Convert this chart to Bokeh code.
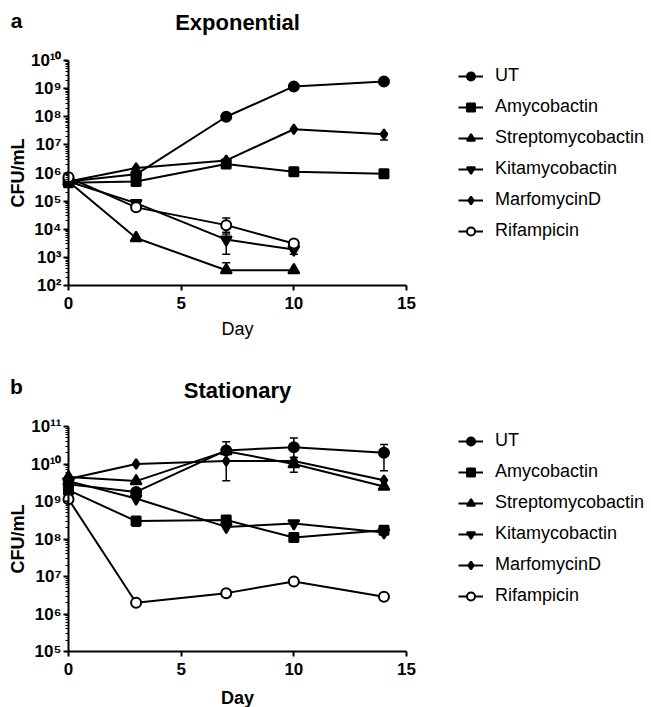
import numpy as np
from bokeh.plotting import figure
from bokeh.layouts import column
from bokeh.models import (FixedTicker, CustomJSTickFormatter, Whisker, TeeHead,
                          ColumnDataSource, Legend, LegendItem, Label, Range1d)
from bokeh.embed import file_html
from bokeh.resources import INLINE

FONT = "Liberation Sans"

# ---------------- data ----------------
series_names = ["UT", "Amycobactin", "Streptomycobactin", "Kitamycobactin", "MarfomycinD", "Rifampicin"]
days_long = [0, 3, 7, 10, 14]
days_short = [0, 3, 7, 10]

# Panel a: Exponential (CFU/mL)
exp_ut = [5.0e5, 9.0e5, 1.0e8, 1.2e9, 1.8e9]
exp_amy = [4.5e5, 5.0e5, 2.1e6, 1.1e6, 9.5e5]
exp_strep = [5.0e5, 4.9e3, 3.5e2, 3.5e2]
exp_kita = [5.0e5, 8.5e4, 4.3e3, 1.9e3]
exp_marf = [5.0e5, 1.5e6, 2.8e6, 3.6e7, 2.4e7]
exp_rif = [7.0e5, 6.0e4, 1.4e4, 3.1e3]

exp_err_day = [3, 7, 7, 10, 7, 10, 14]
exp_err_lo = [6.5e4, 3.5e2, 1.3e3, 1.3e3, 7.8e3, 2.2e3, 1.5e7]
exp_err_hi = [1.05e5, 6.5e2, 6.8e3, 2.6e3, 2.5e4, 3.9e3, 2.6e7]

# Panel b: Stationary (CFU/mL)
stat_ut = [2.9e9, 1.8e9, 2.3e10, 2.8e10, 2.0e10]
stat_amy = [2.0e9, 3.0e8, 3.2e8, 1.1e8, 1.7e8]
stat_strep = [4.5e9, 3.5e9, 2.2e10, 1.0e10, 2.5e9]
stat_kita = [3.5e9, 1.2e9, 2.1e8, 2.6e8, 1.5e8]
stat_marf = [4.0e9, 1.0e10, 1.2e10, 1.2e10, 3.7e9]
stat_rif = [1.15e9, 2.0e6, 3.6e6, 7.4e6, 2.9e6]

stat_err_day = [0, 3, 7, 7, 10, 10, 14, 7]
stat_err_lo = [2.0e9, 2.2e8, 2.3e10, 3.6e9, 1.5e10, 6.0e9, 6.6e9, 3.0e6]
stat_err_hi = [4.5e9, 3.0e8, 3.9e10, 1.2e10, 4.9e10, 1.5e10, 3.3e10, 3.6e6]

x_ticks = [0, 5, 10, 15]

# ---------------- styling ----------------
markers = {
    "UT": dict(marker="circle", size=10, fill_color="black"),
    "Amycobactin": dict(marker="square", size=9, fill_color="black"),
    "Streptomycobactin": dict(marker="triangle", size=11, fill_color="black"),
    "Kitamycobactin": dict(marker="inverted_triangle", size=11, fill_color="black"),
    "MarfomycinD": dict(marker="diamond", size=10, fill_color="black"),
    "Rifampicin": dict(marker="circle", size=10, fill_color="white"),
}

SUP_JS = r"""
const s = ["\u2070","\u00b9","\u00b2","\u00b3","\u2074","\u2075","\u2076","\u2077","\u2078","\u2079"];
const e = Math.round(Math.log10(tick));
let out = "";
for (const c of String(e)) { out += s[parseInt(c)]; }
return "10" + out;
"""

W = 651
PX_PER_DAY = 338.0 / 15.0
DAY0_X = 68.0
FRAME_H = 225.0


def make_panel(title, letter, ymin_exp, ymax_exp, series, errs, height, frame_top,
               day_bold, legend_y, day_standoff, title_y, letter_y):
    x0 = -DAY0_X / PX_PER_DAY
    x1 = x0 + W / PX_PER_DAY
    per_dec = FRAME_H / (ymax_exp - ymin_exp)
    bottom = height - frame_top - FRAME_H
    ytop = 10.0 ** (ymax_exp + frame_top / per_dec)
    ybot = 10.0 ** (ymin_exp - bottom / per_dec)
    p = figure(width=W, height=height, x_range=Range1d(x0, x1),
               y_range=Range1d(ybot, ytop), y_axis_type="log",
               output_backend="svg", toolbar_location=None,
               min_border_left=0, min_border_right=0, min_border_top=0,
               min_border_bottom=0)
    p.title.visible = False
    p.grid.visible = False
    p.outline_line_color = None
    p.background_fill_color = "white"
    p.border_fill_color = "white"

    for ax in (p.xaxis[0], p.yaxis[0]):
        ax.axis_line_width = 2
        ax.axis_line_color = "black"
        ax.major_tick_line_width = 2
        ax.major_tick_line_color = "black"
        ax.major_tick_in = 0
        ax.major_tick_out = 5
        ax.minor_tick_in = 0
        ax.minor_tick_out = 3
        ax.minor_tick_line_width = 1
        ax.minor_tick_line_color = "black"
        ax.major_label_text_font = FONT
        ax.major_label_text_font_size = "17px"
        ax.major_label_text_font_style = "bold"
        ax.major_label_text_color = "black"

    p.xaxis.ticker = FixedTicker(ticks=x_ticks, minor_ticks=[])
    p.xaxis.bounds = (0, 15)
    p.xaxis.fixed_location = 10.0 ** ymin_exp
    p.xaxis.major_label_standoff = 6
    p.xaxis.axis_label = "Day"
    p.xaxis.axis_label_text_font = FONT
    p.xaxis.axis_label_text_font_size = "18px"
    p.xaxis.axis_label_text_font_style = "bold" if day_bold else "normal"
    p.xaxis.axis_label_text_color = "black"
    p.xaxis.axis_label_standoff = day_standoff

    majors = [10.0 ** k for k in range(ymin_exp, ymax_exp + 1)]
    minors = [m * 10.0 ** k for k in range(ymin_exp, ymax_exp) for m in range(2, 10)]
    p.yaxis.ticker = FixedTicker(ticks=majors, minor_ticks=minors)
    p.yaxis.formatter = CustomJSTickFormatter(code=SUP_JS)
    p.yaxis.major_label_standoff = 2
    p.yaxis.fixed_location = 0
    p.yaxis.bounds = (10.0 ** ymin_exp, 10.0 ** ymax_exp)

    items = []
    for name, xs, ys in series:
        lr = p.line(xs, ys, line_color="black", line_width=2)
        st = markers[name]
        sr = p.scatter(xs, ys, marker=st["marker"], size=st["size"],
                       fill_color=st["fill_color"], line_color="black", line_width=2)
        items.append(LegendItem(label=name, renderers=[lr, sr]))

    ed, elo, ehi = errs
    src = ColumnDataSource(dict(base=ed, lower=elo, upper=ehi))
    w = Whisker(source=src, base="base", lower="lower", upper="upper", dimension="height",
                line_width=1.5, line_color="black",
                upper_head=TeeHead(size=8, line_width=1.5, line_color="black"),
                lower_head=TeeHead(size=8, line_width=1.5, line_color="black"))
    p.add_layout(w)

    legend = Legend(items=items, location=(458, legend_y + bottom), orientation="vertical",
                    label_text_font=FONT, label_text_font_size="18px",
                    label_text_color="black",
                    glyph_width=25, glyph_height=20, label_height=20,
                    label_standoff=12, spacing=10, padding=0, margin=0,
                    border_line_color=None, background_fill_alpha=0)
    p.add_layout(legend)

    p.add_layout(Label(x=16, y=height - letter_y, x_units="screen", y_units="screen",
                       text=letter, text_font=FONT, text_font_size="21px",
                       text_font_style="bold", text_color="black",
                       text_align="center", text_baseline="middle"))
    p.add_layout(Label(x=237, y=height - title_y, x_units="screen", y_units="screen",
                       text=title, text_font=FONT, text_font_size="22px",
                       text_font_style="bold", text_color="black",
                       text_align="center", text_baseline="middle"))
    p.add_layout(Label(x=17, y=height - (frame_top + FRAME_H / 2), x_units="screen",
                       y_units="screen", text="CFU/mL", angle=np.pi / 2, text_font=FONT,
                       text_font_size="18px", text_font_style="bold", text_color="black",
                       text_align="center", text_baseline="middle"))
    return p


exp_series = [
    ("UT", days_long, exp_ut),
    ("Amycobactin", days_long, exp_amy),
    ("Streptomycobactin", days_short, exp_strep),
    ("Kitamycobactin", days_short, exp_kita),
    ("MarfomycinD", days_long, exp_marf),
    ("Rifampicin", days_short, exp_rif),
]
stat_series = [
    ("UT", days_long, stat_ut),
    ("Amycobactin", days_long, stat_amy),
    ("Streptomycobactin", days_long, stat_strep),
    ("Kitamycobactin", days_long, stat_kita),
    ("MarfomycinD", days_long, stat_marf),
    ("Rifampicin", days_long, stat_rif),
]

# figure a: page y 0..359, frame 60..285
pa = make_panel("Exponential", "a", 2, 10, exp_series,
                (exp_err_day, exp_err_lo, exp_err_hi), height=359, frame_top=60,
                day_bold=False, legend_y=44, day_standoff=7, title_y=22, letter_y=20)
# figure b: page y 359..707, frame 426..651
pb = make_panel("Stationary", "b", 5, 11, stat_series,
                (stat_err_day, stat_err_lo, stat_err_hi), height=348, frame_top=67,
                day_bold=True, legend_y=45, day_standoff=10, title_y=31, letter_y=27)

layout = column(pa, pb)
with open("out.html", "w", encoding="utf-8") as f:
    f.write(file_html(layout, INLINE))
